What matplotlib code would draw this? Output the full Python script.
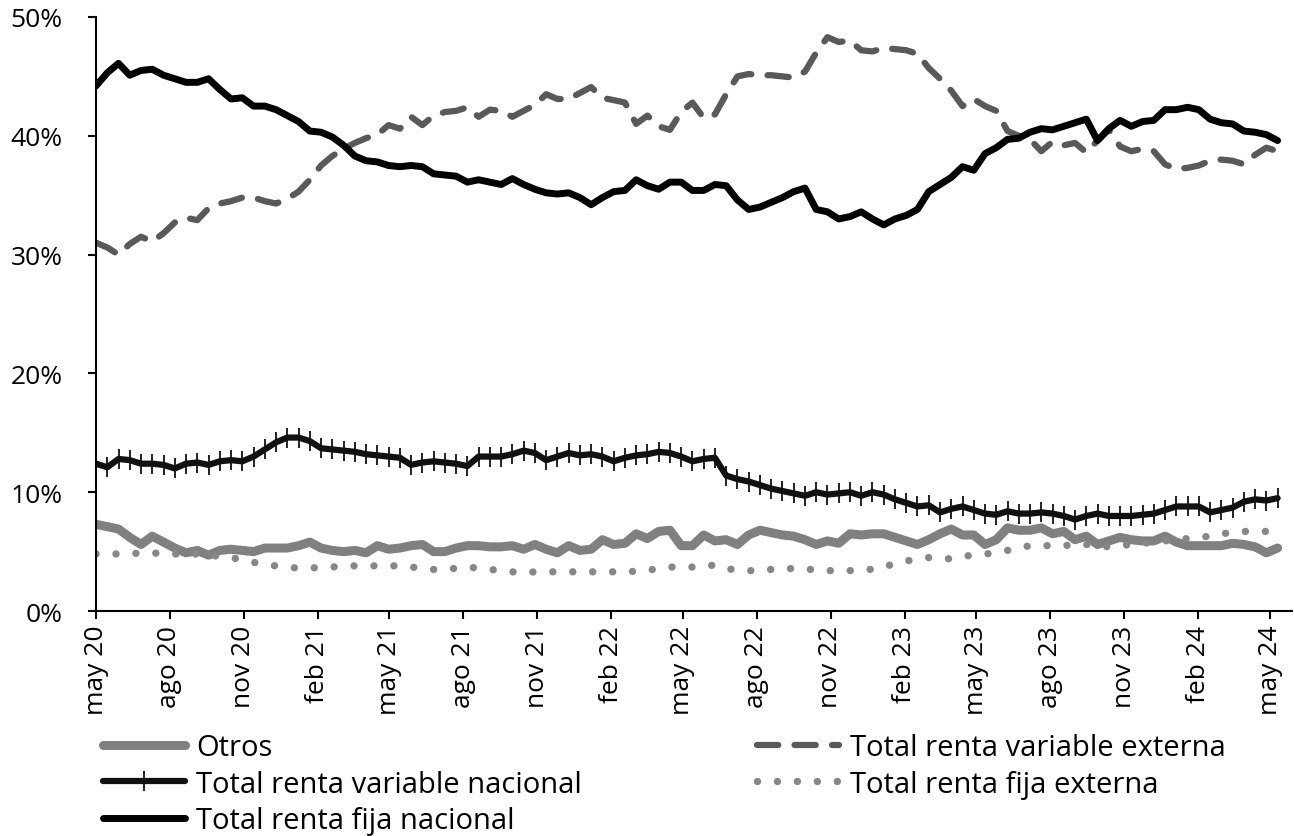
import numpy as np
import pandas as pd
import matplotlib
matplotlib.use('Agg')
import matplotlib.pyplot as plt

plt.rcParams['font.family'] = ['Open Sans', 'DejaVu Sans']

# fechas quincenales desde mayo 2020
fechas = pd.date_range('2020-05-01', periods=106, freq='14D')

# porcentaje de la cartera (%)
otros = [7.3, 7.1, 6.9, 6.2, 5.6, 6.3, 5.8, 5.3, 4.9, 5.1,
         4.7, 5.1, 5.2, 5.1, 5.0, 5.3, 5.3, 5.3, 5.5, 5.8,
         5.3, 5.1, 5.0, 5.1, 4.9, 5.5, 5.2, 5.3, 5.5, 5.6,
         5.0, 5.0, 5.3, 5.5, 5.5, 5.4, 5.4, 5.5, 5.2, 5.6,
         5.2, 4.9, 5.5, 5.1, 5.2, 6.0, 5.6, 5.7, 6.5, 6.1,
         6.7, 6.8, 5.5, 5.5, 6.4, 5.9, 6.0, 5.6, 6.4, 6.8,
         6.6, 6.4, 6.3, 6.0, 5.6, 5.9, 5.7, 6.5, 6.4, 6.5,
         6.5, 6.2, 5.9, 5.6, 6.0, 6.5, 6.9, 6.4, 6.4, 5.6,
         6.0, 7.0, 6.8, 6.8, 7.0, 6.5, 6.7, 6.0, 6.3, 5.6,
         5.9, 6.2, 6.0, 5.9, 5.9, 6.3, 5.8, 5.5, 5.5, 5.5,
         5.5, 5.7, 5.6, 5.4, 4.9, 5.3]

rv_externa = [31.0, 30.6, 30.0, 30.9, 31.5, 31.1, 31.8, 32.7, 33.1, 32.9,
              33.9, 34.3, 34.5, 34.8, 34.8, 34.5, 34.3, 34.7, 35.3, 36.3,
              37.5, 38.3, 38.9, 39.4, 39.8, 40.1, 40.9, 40.6, 41.6, 40.9,
              41.7, 42.0, 42.1, 42.4, 41.6, 42.2, 42.1, 41.6, 42.1, 42.6,
              43.5, 43.1, 43.1, 43.6, 44.1, 43.2, 43.0, 42.8, 41.0, 41.7,
              40.8, 40.5, 42.0, 42.8, 41.5, 41.8, 43.5, 45.0, 45.2, 45.1,
              45.1, 45.0, 44.9, 45.4, 47.0, 48.3, 47.9, 48.0, 47.2, 47.1,
              47.4, 47.3, 47.2, 46.9, 45.7, 44.8, 43.8, 42.5, 43.1, 42.5,
              42.1, 40.4, 40.0, 39.7, 38.7, 39.5, 39.2, 39.4, 38.6, 39.6,
              40.5, 39.1, 38.7, 38.9, 38.7, 37.6, 37.2, 37.3, 37.5, 37.9,
              38.0, 37.9, 37.6, 38.4, 39.0, 38.7]

rv_nacional = [12.4, 12.1, 12.8, 12.7, 12.4, 12.4, 12.3, 12.0, 12.4, 12.5,
               12.3, 12.6, 12.7, 12.6, 13.0, 13.6, 14.2, 14.6, 14.6, 14.3,
               13.7, 13.6, 13.5, 13.4, 13.2, 13.1, 13.0, 12.9, 12.3, 12.5,
               12.6, 12.5, 12.4, 12.2, 13.0, 13.0, 13.0, 13.2, 13.5, 13.3,
               12.7, 13.0, 13.3, 13.1, 13.2, 13.0, 12.6, 12.9, 13.1, 13.2,
               13.4, 13.3, 13.0, 12.6, 12.8, 12.9, 11.4, 11.1, 10.9, 10.6,
               10.3, 10.1, 9.9, 9.7, 10.0, 9.8, 9.9, 10.0, 9.7, 10.0,
               9.8, 9.4, 9.1, 8.8, 8.9, 8.3, 8.6, 8.8, 8.5, 8.2,
               8.1, 8.4, 8.2, 8.2, 8.3, 8.2, 8.0, 7.7, 8.0, 8.2,
               8.0, 8.0, 8.0, 8.1, 8.2, 8.5, 8.8, 8.8, 8.8, 8.3,
               8.5, 8.7, 9.2, 9.4, 9.3, 9.5]

rf_externa = [4.8, 4.8, 4.8, 4.8, 4.9, 4.9, 4.8, 4.8, 4.8, 4.8,
              4.7, 4.6, 4.5, 4.3, 4.1, 3.9, 3.8, 3.7, 3.6, 3.6,
              3.7, 3.7, 3.8, 3.8, 3.8, 3.8, 3.8, 3.8, 3.7, 3.6,
              3.5, 3.5, 3.6, 3.7, 3.6, 3.5, 3.4, 3.3, 3.2, 3.3,
              3.3, 3.3, 3.3, 3.3, 3.3, 3.3, 3.3, 3.4, 3.3, 3.4,
              3.6, 3.7, 3.7, 3.7, 3.7, 3.9, 3.6, 3.4, 3.4, 3.4,
              3.5, 3.5, 3.6, 3.5, 3.5, 3.4, 3.4, 3.4, 3.5, 3.5,
              3.7, 4.0, 4.2, 4.4, 4.5, 4.4, 4.4, 4.6, 4.7, 4.8,
              4.9, 5.1, 5.3, 5.5, 5.5, 5.5, 5.5, 5.6, 5.6, 5.5,
              5.4, 5.5, 5.6, 5.7, 5.8, 5.9, 6.0, 6.1, 6.2, 6.3,
              6.5, 6.6, 6.7, 6.7, 6.7, 6.7]

rf_nacional = [44.2, 45.3, 46.1, 45.1, 45.5, 45.6, 45.1, 44.8, 44.5, 44.5,
               44.8, 43.9, 43.1, 43.2, 42.5, 42.5, 42.2, 41.7, 41.2, 40.4,
               40.3, 39.9, 39.2, 38.3, 37.9, 37.8, 37.5, 37.4, 37.5, 37.4,
               36.8, 36.7, 36.6, 36.1, 36.3, 36.1, 35.9, 36.4, 35.9, 35.5,
               35.2, 35.1, 35.2, 34.8, 34.2, 34.8, 35.3, 35.4, 36.3, 35.8,
               35.5, 36.1, 36.1, 35.4, 35.4, 35.9, 35.8, 34.6, 33.8, 34.0,
               34.4, 34.8, 35.3, 35.6, 33.8, 33.6, 33.0, 33.2, 33.6, 33.0,
               32.5, 33.0, 33.3, 33.8, 35.3, 35.9, 36.5, 37.4, 37.1, 38.5,
               39.0, 39.7, 39.8, 40.3, 40.6, 40.5, 40.8, 41.1, 41.4, 39.6,
               40.6, 41.3, 40.8, 41.2, 41.3, 42.2, 42.2, 42.4, 42.2, 41.4,
               41.1, 41.0, 40.4, 40.3, 40.1, 39.6]

tick_fechas = pd.date_range('2020-05-01', '2024-05-01', freq='3MS')
tick_labels = ['may 20', 'ago 20', 'nov 20', 'feb 21', 'may 21', 'ago 21',
               'nov 21', 'feb 22', 'may 22', 'ago 22', 'nov 22', 'feb 23',
               'may 23', 'ago 23', 'nov 23', 'feb 24', 'may 24']

fig = plt.figure(figsize=(12.94, 8.37), dpi=100)
ax = fig.add_axes([0.0742, 0.2688, 0.9243, 0.7097])

l_otros, = ax.plot(fechas, otros, color='#808080', lw=6.5,
                   solid_capstyle='round', solid_joinstyle='round')
l_rve, = ax.plot(fechas, rv_externa, color='#595959', lw=4.5,
                 dashes=(3.4, 2.6), dash_capstyle='round', dash_joinstyle='round')
l_rvn, = ax.plot(fechas, rv_nacional, color='#111111', lw=4.5,
                 marker='|', ms=14, mew=1.3,
                 solid_capstyle='round', solid_joinstyle='round')
l_rfe, = ax.plot(fechas, rf_externa, color='#878787', lw=5.3,
                 dashes=(0.01, 2.7), dash_capstyle='round')
l_rfn, = ax.plot(fechas, rf_nacional, color='black', lw=5,
                 solid_capstyle='round', solid_joinstyle='round')

ax.set_ylim(0, 50)
ax.set_yticks(np.arange(0, 51, 10))
ax.set_yticklabels([f'{v}%' for v in range(0, 51, 10)])
ax.set_xlim(pd.Timestamp('2020-05-01'), pd.Timestamp('2024-05-28'))
ax.set_xticks(tick_fechas)
ax.set_xticklabels(tick_labels, rotation=90)

for s in ['top', 'right']:
    ax.spines[s].set_visible(False)
for s in ['left', 'bottom']:
    ax.spines[s].set_linewidth(1.5)
ax.tick_params(axis='both', direction='out', length=6, width=1.5,
               labelsize=19, colors='black')
ax.tick_params(axis='y', pad=18)
ax.tick_params(axis='x', pad=4)

leg_kw = dict(frameon=False, fontsize=21, handlelength=2.8, handletextpad=0.4,
              labelspacing=0.26, borderpad=0, borderaxespad=0)
leg1 = fig.legend([l_otros, l_rvn, l_rfn],
                  ['Otros', 'Total renta variable nacional', 'Total renta fija nacional'],
                  loc='upper left', bbox_to_anchor=(103 / 1294, 1 - 734 / 837), **leg_kw)
leg2 = fig.legend([l_rve, l_rfe],
                  ['Total renta variable externa', 'Total renta fija externa'],
                  loc='upper left', bbox_to_anchor=(757 / 1294, 1 - 734 / 837), **leg_kw)

fig.savefig('out.png', dpi=100)
